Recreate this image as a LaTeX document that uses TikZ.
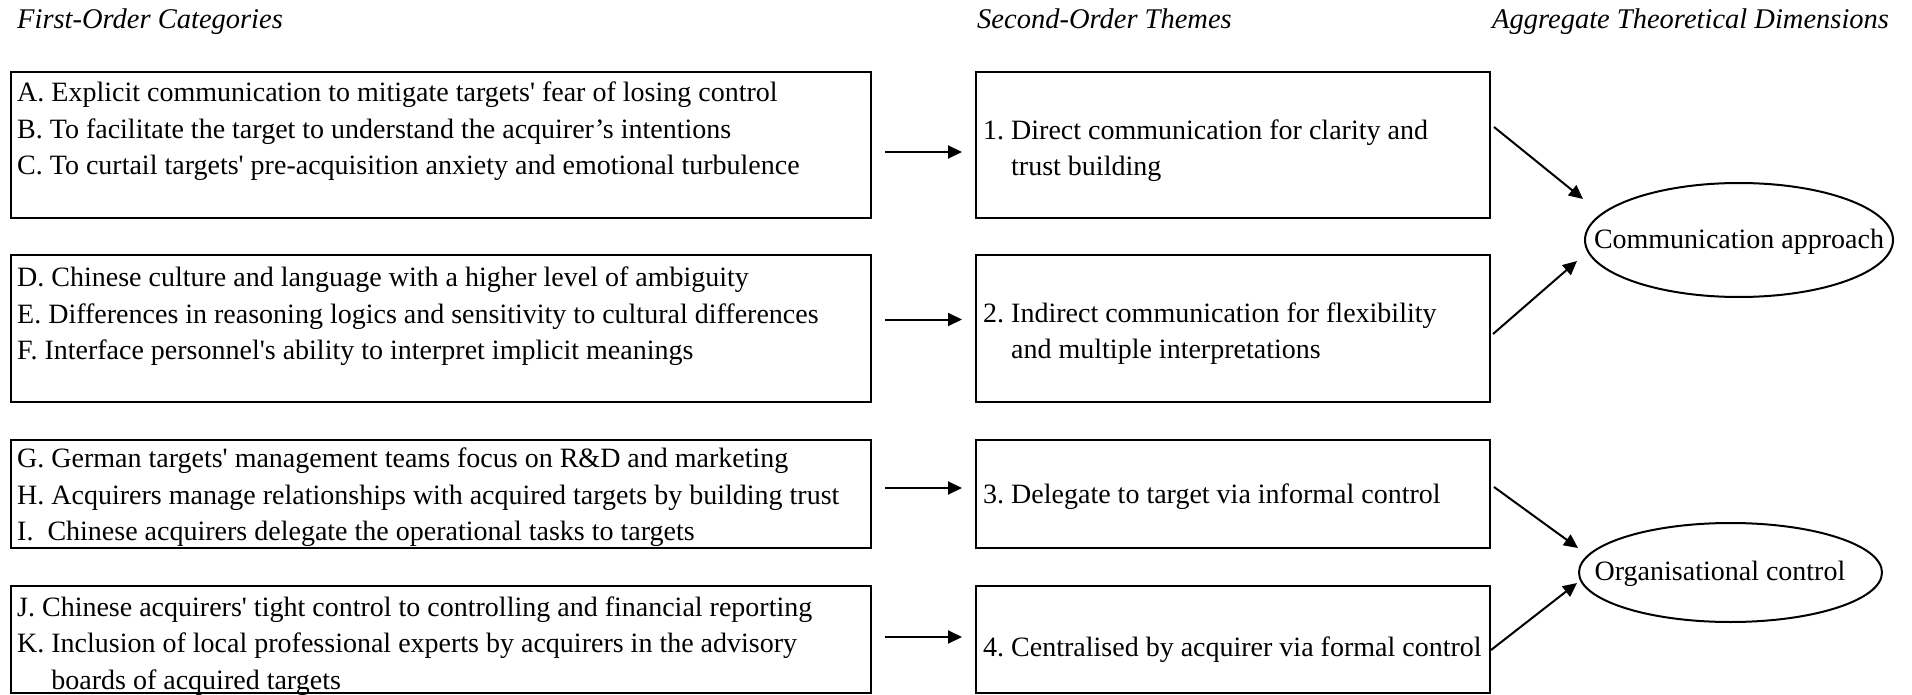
\documentclass[tikz,border=0pt]{standalone}
\usepackage{fontspec}
\setmainfont{Liberation Serif}[Ligatures=TeXOff]
\usetikzlibrary{arrows.meta,shapes.geometric,calc}
\frenchspacing
\begin{document}
\begin{tikzpicture}[x=1pt,y=-1pt,
  box/.style={draw, line width=2pt, rectangle, inner sep=0},
  ln/.style={anchor=base west, inner sep=0, font=\fontsize{28}{34}\selectfont},
  hd/.style={anchor=base west, inner sep=0, font=\fontsize{28.5}{34}\selectfont\itshape},
  dim/.style={draw, ellipse, line width=2pt, inner sep=0},
  dimtext/.style={inner sep=0, font=\fontsize{28}{34}\selectfont},
  arr/.style={line width=2pt, -{Triangle[length=14pt,width=13pt]}},
  harr/.style={arr, shorten <=13pt, shorten >=13pt}]

\useasboundingbox (0,0) rectangle (1912,695);

% column headings
\node[hd] (h1) at (17,29)   {First-Order Categories};
\node[hd] (h2) at (977,29)  {Second-Order Themes};
\node[hd] (h3) at (1492,29) {Aggregate Theoretical Dimensions};

% first-order category boxes
\node[box, minimum width=860pt, minimum height=146pt]   (bA) at (441,145.5)  {};
\node[box, minimum width=860pt, minimum height=146pt]   (bD) at (441,328.5)  {};
\node[box, minimum width=860pt, minimum height=108.5pt] (bG) at (441,493.75) {};
\node[box, minimum width=860pt, minimum height=107.5pt] (bJ) at (441,639.25) {};

% second-order theme boxes
\node[box, minimum width=514pt, minimum height=146pt]   (b1) at (1233,145.5)  {};
\node[box, minimum width=514pt, minimum height=146pt]   (b2) at (1233,328.5)  {};
\node[box, minimum width=514pt, minimum height=108.5pt] (b3) at (1233,493.75) {};
\node[box, minimum width=514pt, minimum height=107.5pt] (b4) at (1233,639.25) {};

% aggregate dimensions
\node[dim, minimum width=308pt, minimum height=114pt] (e1) at (1739,240) {};
\node[dim, minimum width=303pt, minimum height=99pt]  (e2) at (1730.5,572.5) {};
\node[dimtext, anchor=base] (e1t) at (1739,248) {Communication approach};
\node[dimtext, anchor=base] (e2t) at (1720,580) {Organisational control};

% category texts
\node[ln] (lA1) at (17,102)   {A. Explicit communication to mitigate targets' fear of losing control};
\node[ln] (lA2) at (17,138.5) {B. To facilitate the target to understand the acquirer’s intentions};
\node[ln] (lA3) at (17,175)   {C. To curtail targets' pre-acquisition anxiety and emotional turbulence};

\node[ln] (lD1) at (17,287)   {D. Chinese culture and language with a higher level of ambiguity};
\node[ln] (lD2) at (17,323)   {E. Differences in reasoning logics and sensitivity to cultural differences};
\node[ln] (lD3) at (17,359)   {F. Interface personnel's ability to interpret implicit meanings};

\node[ln] (lG1) at (17,467.5) {G. German targets' management teams focus on R\&D and marketing};
\node[ln] (lG2) at (17,504)   {H. Acquirers manage relationships with acquired targets by building trust};
\node[ln] (lG3) at (17,540.5) {I.\ \ Chinese acquirers delegate the operational tasks to targets};

\node[ln] (lJ1) at (17,616)   {J. Chinese acquirers' tight control to controlling and financial reporting};
\node[ln] (lJ2) at (17,652.5) {K. Inclusion of local professional experts by acquirers in the advisory};
\node[ln] (lJ3) at (17,689)   {\phantom{K.\ }boards of acquired targets};

% theme texts
\node[ln] (l11) at (983,140) {1. Direct communication for clarity and};
\node[ln] (l12) at (983,176) {\phantom{1.\ }trust building};
\node[ln] (l21) at (983,322) {2. Indirect communication for flexibility};
\node[ln] (l22) at (983,358) {\phantom{2.\ }and multiple interpretations};
\node[ln] (l31) at (983,503) {3. Delegate to target via informal control};
\node[ln] (l41) at (983,656) {4. Centralised by acquirer via formal control};

% categories -> themes
\draw[harr] ([yshift=-6.5pt]bA.east) -- ([yshift=-6.5pt]b1.west);
\draw[harr] ([yshift=9pt]bD.east) -- ([yshift=9pt]b2.west);
\draw[harr] ([yshift=5.75pt]bG.east) -- ([yshift=5.75pt]b3.west);
\draw[harr] ([yshift=2.25pt]bJ.east) -- ([yshift=2.25pt]b4.west);

% themes -> dimensions
\coordinate (t1) at (1583,199);
\coordinate (t2) at (1577,261);
\coordinate (t3) at (1578,548);
\coordinate (t4) at (1577,583);
\draw[arr] ([xshift=3pt,yshift=18.5pt]b1.east)  -- (t1);
\draw[arr] ([xshift=2pt,yshift=-5.5pt]b2.east)  -- (t2);
\draw[arr] ([xshift=3pt,yshift=6.75pt]b3.east)  -- (t3);
\draw[arr] ([xshift=0pt,yshift=-10.75pt]b4.east) -- (t4);
\end{tikzpicture}
\end{document}
